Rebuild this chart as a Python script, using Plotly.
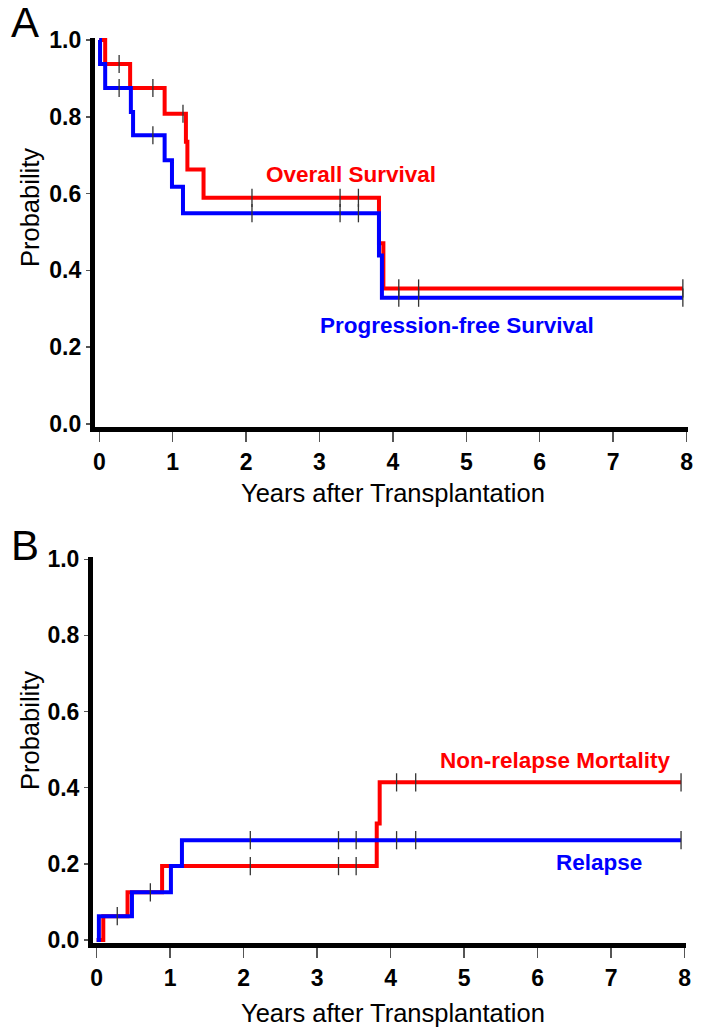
import plotly.graph_objects as go

W, H = 701, 1035

# ---------------- Data ----------------
# Panel A: Kaplan-Meier survival curves
os_times = [0.0, 0.08, 0.42, 0.89, 1.18, 1.20, 1.42, 3.81, 3.87, 7.95]
os_surv = [1.0, 0.9375, 0.875, 0.808, 0.735, 0.663, 0.589, 0.471, 0.353, 0.353]
os_censor = [0.27, 0.73, 1.14, 2.08, 3.28, 3.53, 4.08, 4.35, 7.95]

pfs_times = [0.0, 0.01, 0.08, 0.43, 0.46, 0.89, 0.99, 1.14, 3.81, 3.85, 7.95]
pfs_surv = [1.0, 0.9375, 0.875, 0.8125, 0.752, 0.687, 0.618, 0.549, 0.439, 0.329, 0.329]
pfs_censor = [0.27, 0.73, 2.08, 3.28, 3.53, 4.08, 4.35, 7.95]

# Panel B: cumulative incidence curves
nrm_times = [0.0, 0.09, 0.42, 0.89, 3.81, 3.85, 7.95]
nrm_inc = [0.0, 0.0625, 0.125, 0.194, 0.306, 0.414, 0.414]
nrm_censor = [2.09, 3.29, 3.53, 4.08, 4.34, 7.95]

rel_times = [0.0, 0.03, 0.48, 1.01, 1.16, 7.95]
rel_inc = [0.0, 0.0625, 0.125, 0.194, 0.262, 0.262]
rel_censor = [0.28, 0.73, 2.09, 3.29, 3.53, 4.08, 4.34, 7.95]

x_ticks = [0, 1, 2, 3, 4, 5, 6, 7, 8]
y_ticks = [0.0, 0.2, 0.4, 0.6, 0.8, 1.0]
y_ticklabels = ["0.0", "0.2", "0.4", "0.6", "0.8", "1.0"]

RED = "#ff0000"
BLUE = "#0000ff"


def step_value(times, vals, t):
    v = vals[0]
    for ti, vi in zip(times, vals):
        if ti <= t:
            v = vi
    return v


def px_x(p):
    return p / W


def px_y(p):
    return 1 - p / H


fig = go.Figure()

# domains from pixel geometry
A_x = [94.9 / W, 688.0 / W]
A_y = [px_y(427.1), px_y(38.1)]
B_x = [93.0 / W, 686.2 / W]
B_y = [px_y(943.0), px_y(557.4)]


def add_curve(times, vals, censor, color, xa, ya):
    fig.add_trace(go.Scatter(
        x=times, y=vals, mode="lines", line=dict(color=color, width=4, shape="hv"),
        xaxis=xa, yaxis=ya, showlegend=False, hoverinfo="skip", cliponaxis=False))
    fig.add_trace(go.Scatter(
        x=censor, y=[step_value(times, vals, t) for t in censor], mode="markers",
        marker=dict(symbol="line-ns", size=13, line=dict(color="#333333", width=1.3)),
        xaxis=xa, yaxis=ya, showlegend=False, hoverinfo="skip", cliponaxis=False))


# Panel A (red below, blue on top)
add_curve(os_times, os_surv, os_censor, RED, "x", "y")
add_curve(pfs_times, pfs_surv, pfs_censor, BLUE, "x", "y")
# Panel B
add_curve(nrm_times, nrm_inc, nrm_censor, RED, "x2", "y2")
add_curve(rel_times, rel_inc, rel_censor, BLUE, "x2", "y2")

tickfont = dict(family="Liberation Sans, Arial", size=23, color="black", weight="bold")

xaxis_common = dict(
    tickmode="array", tickvals=x_ticks, ticktext=[str(v) for v in x_ticks],
    showline=True, linecolor="black", linewidth=5, showgrid=False, zeroline=False,
    ticks="outside", ticklen=10, tickwidth=1.5, tickcolor="#555555",
    tickfont=tickfont, fixedrange=True, automargin=False)
yaxis_common = dict(
    tickmode="array", tickvals=y_ticks, ticktext=y_ticklabels,
    showline=True, linecolor="black", linewidth=5, showgrid=False, zeroline=False,
    ticks="outside", ticklen=4, tickwidth=1.5, tickcolor="#555555",
    tickfont=tickfont, fixedrange=True, automargin=False)

fig.update_layout(
    width=W, height=H,
    margin=dict(l=0, r=0, t=0, b=0, autoexpand=False),
    paper_bgcolor="white", plot_bgcolor="white",
    xaxis=dict(xaxis_common, domain=A_x, range=[-0.06, 8.02], anchor="y"),
    yaxis=dict(yaxis_common, domain=A_y, range=[-0.008, 1.005], anchor="x"),
    xaxis2=dict(xaxis_common, domain=B_x, range=[-0.05, 8.02], anchor="y2"),
    yaxis2=dict(yaxis_common, domain=B_y, range=[-0.008, 1.005], anchor="x2"),
)

title_font = dict(family="Liberation Sans, Arial", size=25.5, color="black")
label_font = dict(family="Liberation Sans, Arial", size=22.5, weight="bold")

annotations = [
    # panel letters
    dict(text="A", x=px_x(25), y=px_y(22), font=dict(family="Liberation Sans, Arial", size=42, color="black")),
    dict(text="B", x=px_x(25), y=px_y(545), font=dict(family="Liberation Sans, Arial", size=42, color="black")),
    # axis titles
    dict(text="Probability", x=px_x(30), y=px_y(208), textangle=-90, font=title_font),
    dict(text="Probability", x=px_x(30), y=px_y(731), textangle=-90, font=title_font),
    dict(text="Years after Transplantation", x=px_x(393), y=px_y(493), font=title_font),
    dict(text="Years after Transplantation", x=px_x(393), y=px_y(1013), font=title_font),
    # curve labels
    dict(text="Overall Survival", x=px_x(351), y=px_y(175), font=dict(label_font, color=RED)),
    dict(text="Progression-free Survival", x=px_x(457), y=px_y(325), font=dict(label_font, color=BLUE)),
    dict(text="Non-relapse Mortality", x=px_x(555), y=px_y(760), font=dict(label_font, color=RED)),
    dict(text="Relapse", x=px_x(599), y=px_y(862), font=dict(label_font, color=BLUE)),
]
for a in annotations:
    a.update(xref="paper", yref="paper", showarrow=False, xanchor="center", yanchor="middle")
fig.update_layout(annotations=annotations)

fig.write_html(
    "out.html",
    config={"displayModeBar": False, "staticPlot": True},
    post_script="document.body.style.margin='0';document.body.style.padding='0';document.body.style.overflow='hidden';",
)
